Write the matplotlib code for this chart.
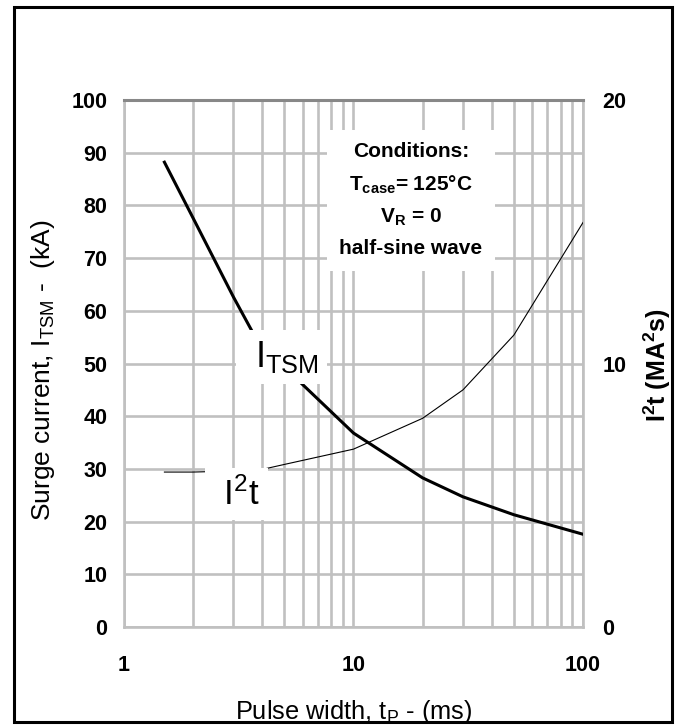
import matplotlib
matplotlib.use('Agg')
import matplotlib.pyplot as plt
from matplotlib.patches import Rectangle
from matplotlib.ticker import NullFormatter

plt.rcParams['font.family'] = ['Liberation Sans', 'DejaVu Sans']
plt.rcParams['mathtext.default'] = 'regular'

# surge current curve (kA) vs pulse width (ms)
t_itsm = [1.5, 2, 3, 4, 5, 10, 20, 30, 50, 100]
itsm_ka = [88.2, 77.6, 62.6, 52.6, 49.3, 36.8, 28.3, 24.7, 21.3, 17.6]

# I2t curve (MA^2 s) vs pulse width (ms)
t_i2t = [1.5, 2, 3, 4, 5, 10, 20, 30, 50, 100]
i2t_ma2s = [5.88, 5.88, 5.92, 5.98, 6.17, 6.75, 7.92, 9.0, 11.08, 15.35]

x_ticks = [1, 10, 100]
left_ticks = list(range(0, 101, 10))
right_ticks = [0, 10, 20]

grid_col = '#c0c0c0'

fig = plt.figure(figsize=(6.82, 7.25), dpi=100)
ax = fig.add_axes([124/682, 1 - 627/725, 459/682, 527/725])
ax.set_xscale('log')
ax.set_xlim(1, 100)
ax.set_ylim(0, 100)
ax.set_axisbelow(True)
ax.grid(True, which='both', axis='x', color=grid_col, lw=1.9)
ax.grid(True, which='major', axis='y', color=grid_col, lw=1.9)
ax.xaxis.set_minor_formatter(NullFormatter())
ax.set_xticks(x_ticks, labels=[str(v) for v in x_ticks], fontweight='bold', fontsize=15.5)
ax.set_yticks(left_ticks, labels=[str(v) for v in left_ticks], fontweight='bold', fontsize=15.5)
ax.tick_params(axis='x', which='both', length=0, pad=20)
ax.tick_params(axis='y', which='both', length=0, pad=12)
for s in ax.spines.values():
    s.set_color(grid_col)
    s.set_linewidth(1.9)
ax.spines['top'].set_color('#888888')
ax.spines['top'].set_linewidth(2.2)

ax.plot(t_itsm, itsm_ka, color='black', lw=2.2, zorder=3)

ax2 = ax.twinx()
ax2.set_ylim(0, 20)
ax2.set_yticks(right_ticks, labels=[str(v) for v in right_ticks], fontweight='bold', fontsize=15.5)
ax2.tick_params(axis='y', length=0, pad=14)
for s in ax2.spines.values():
    s.set_visible(False)
ax2.plot(t_i2t, i2t_ma2s, color='black', lw=0.8, zorder=2)

box = dict(boxstyle='square,pad=0.25', fc='white', ec='none')
ax2.text(0.343, 0.512, ' I$_{TSM}$', transform=ax.transAxes, fontsize=26,
         ha='center', va='center', bbox=box, zorder=5)
ax2.text(0.246, 0.252, ' I$^{2}$t ', transform=ax.transAxes, fontsize=25,
         ha='center', va='center', bbox=box, zorder=5)
ax2.text(0.625, 0.81,
         'Conditions:\nT$_{case}$= 125°C\nV$_{R}$ = 0\nhalf-sine wave',
         transform=ax.transAxes, fontsize=15, fontweight='bold',
         ha='center', va='center', multialignment='center', linespacing=1.72,
         bbox=dict(boxstyle='square,pad=0.6', fc='white', ec='none'), zorder=5)

fig.text(43/682, 1 - 370/725, 'Surge current, I$_{TSM}$ -  (kA)', rotation=90,
         ha='center', va='center', fontsize=19)
fig.text(354/682, 1 - 719/725, 'Pulse width, t$_{P}$ - (ms)',
         ha='center', va='baseline', fontsize=18.3)
fig.text(673/682, 1 - 365/725, 'I$^{2}$t (MA$^{2}$s)', rotation=90,
         ha='right', va='center', fontsize=18, fontweight='bold')

frame = Rectangle((13.5/682, 3/725), 658/682, 715.5/725, transform=fig.transFigure,
                  fill=False, ec='black', lw=2.2, zorder=10)
fig.add_artist(frame)

fig.savefig('out.png', dpi=100)
